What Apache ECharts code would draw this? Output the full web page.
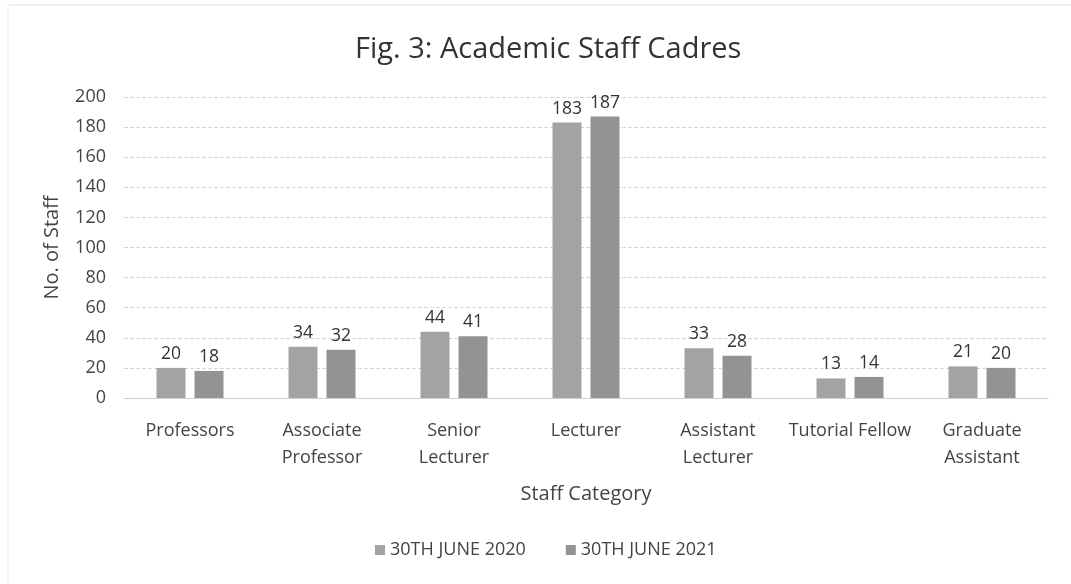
<!DOCTYPE html>
<html>
<head>
<meta charset="utf-8">
<script src="https://cdn.jsdelivr.net/npm/echarts@6/dist/echarts.min.js"></script>
<style>html,body{margin:0;padding:0;background:#fff;}#c{width:1071px;height:584px;}</style>
</head>
<body>
<div id="c"></div>
<script>
const categories = ['Professors', 'Associate\nProfessor', 'Senior\nLecturer', 'Lecturer', 'Assistant\nLecturer', 'Tutorial Fellow', 'Graduate\nAssistant'];
const series2020 = [20, 34, 44, 183, 33, 13, 21];
const series2021 = [18, 32, 41, 187, 28, 14, 20];
const seriesNames = ['30TH JUNE 2020', '30TH JUNE 2021'];

const font = 'Open Sans';
const chart = echarts.init(document.getElementById('c'));
const labelStyle = { show: true, position: 'top', distance: 5, color: '#333', fontSize: 17.5, fontFamily: font };
chart.setOption({
  animation: false,
  backgroundColor: '#fff',
  title: {
    text: 'Fig. 3: Academic Staff Cadres',
    left: 350, top: 30,
    textStyle: { fontFamily: font, fontSize: 29, fontWeight: 'normal', color: '#333' }
  },
  legend: {
    data: seriesNames,
    bottom: 20, left: 370,
    itemWidth: 10, itemHeight: 10, itemGap: 40,
    icon: 'rect',
    textStyle: { fontFamily: font, fontSize: 18, color: '#444' }
  },
  grid: { left: 124, right: 23, top: 97, bottom: 186 },
  xAxis: {
    type: 'category', data: categories,
    name: 'Staff Category', nameLocation: 'middle', nameGap: 86,
    nameTextStyle: { fontFamily: font, fontSize: 20, color: '#444' },
    axisTick: { show: false },
    axisLine: { lineStyle: { color: '#cfcfcf' } },
    axisLabel: { fontFamily: font, fontSize: 18, color: '#444', margin: 19, lineHeight: 27, interval: 0 }
  },
  yAxis: {
    type: 'value', min: 0, max: 200, interval: 20,
    name: 'No. of Staff', nameLocation: 'middle', nameGap: 62, nameRotate: 90,
    nameTextStyle: { fontFamily: font, fontSize: 20, color: '#444' },
    axisLine: { show: false }, axisTick: { show: false },
    axisLabel: { fontFamily: font, fontSize: 18, color: '#444', margin: 18 },
    splitLine: { lineStyle: { color: '#d6d6d6', type: [4, 2] } }
  },
  series: [
    { name: seriesNames[0], type: 'bar', data: series2020, barWidth: 29, barGap: '31%',
      itemStyle: { color: '#a3a3a3' }, label: labelStyle },
    { name: seriesNames[1], type: 'bar', data: series2021, barWidth: 29,
      itemStyle: { color: '#939393' }, label: labelStyle }
  ],
  graphic: [
    { type: 'line', shape: { x1: 8, y1: 5, x2: 1071, y2: 5 }, style: { stroke: '#e2e2e2', lineWidth: 1 } },
    { type: 'line', shape: { x1: 8, y1: 5, x2: 8, y2: 584 }, style: { stroke: '#e8e8e8', lineWidth: 1 } }
  ]
});
</script>
</body>
</html>
